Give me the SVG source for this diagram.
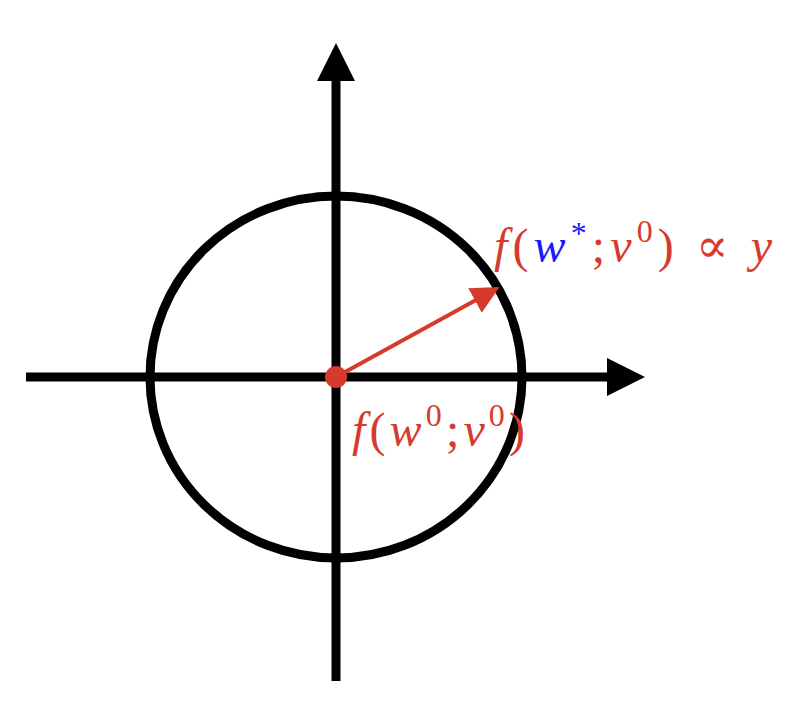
<svg xmlns="http://www.w3.org/2000/svg" width="798" height="726" viewBox="0 0 798 726">
<style>
.ax{stroke:#000;stroke-width:9;fill:none}
.lbl{font-family:"Liberation Serif","DejaVu Serif",serif;font-size:48px;fill:#d73a2c}
.it{font-style:italic}
.sup{font-size:32px}
</style>
<defs>
<marker id="redarrow" markerWidth="8" markerHeight="8" refX="6" refY="4" orient="auto" markerUnits="strokeWidth">
<path d="M0,0.5 L7,4 L0,7.5 Z" fill="#d73a2c"/>
</marker>
</defs>
<rect width="798" height="726" fill="#fff"/>
<g id="circle"><ellipse cx="336" cy="377" rx="186" ry="181" class="ax"/></g>
<g id="connectors">
<line x1="26" y1="377" x2="610" y2="377" class="ax"/>
<polygon points="607,358 645,377 607,396" fill="#000"/>
<line x1="336" y1="681" x2="336" y2="78" class="ax"/>
<polygon points="317,81 336,43 355,81" fill="#000"/>
<line x1="336" y1="377" x2="496" y2="289" stroke="#d73a2c" stroke-width="4" marker-end="url(#redarrow)"/>
</g>
<g id="origin"><circle cx="336" cy="377" r="11" fill="#d73a2c"/></g>
<g id="label-top">
<text class="lbl" x="494" y="262" textLength="278" lengthAdjust="spacing"><tspan class="it">f</tspan>(<tspan class="it" fill="#1a1aff">w</tspan><tspan class="sup" dy="-18" fill="#1a1aff">*</tspan><tspan dy="18">;</tspan><tspan class="it">v</tspan><tspan class="sup" dy="-20">0</tspan><tspan dy="20">) ∝ </tspan><tspan class="it">y</tspan></text>
</g>
<g id="label-origin">
<text class="lbl" x="352" y="446" textLength="173" lengthAdjust="spacing"><tspan class="it">f</tspan>(<tspan class="it">w</tspan><tspan class="sup" dy="-20">0</tspan><tspan dy="20">;</tspan><tspan class="it">v</tspan><tspan class="sup" dy="-20">0</tspan><tspan dy="20">)</tspan></text>
</g>
</svg>
